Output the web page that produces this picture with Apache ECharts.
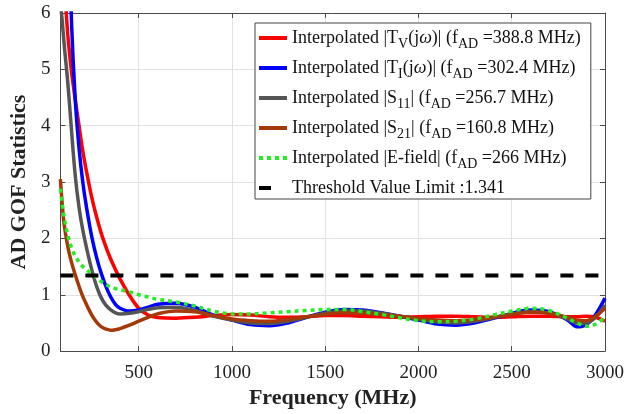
<!DOCTYPE html>
<html>
<head>
<meta charset="utf-8">
<script src="https://cdn.jsdelivr.net/npm/echarts@6/dist/echarts.min.js"></script>
<style>
html,body{margin:0;padding:0;background:#fff;}
#chart{width:628px;height:414px;}
</style>
</head>
<body>
<div id="chart"></div>
<script>
// ---- data ----
const freq = [80, 90, 100, 120, 140, 160, 180, 200, 225, 250, 275, 300, 325, 350, 375, 400, 450, 500, 550, 600, 700, 800, 900, 1000, 1100, 1200, 1300, 1400, 1500, 1600, 1700, 1800, 1900, 2000, 2100, 2200, 2300, 2400, 2500, 2600, 2700, 2800, 2850, 2900, 2950, 3000];
const tvVals  = [8, 7.2, 6.6, 5.6, 4.95, 4.45, 4.0, 3.55, 3.1, 2.7, 2.37, 2.08, 1.84, 1.63, 1.45, 1.28, 0.99, 0.76, 0.64, 0.595, 0.585, 0.6, 0.63, 0.65, 0.64, 0.61, 0.6, 0.61, 0.63, 0.63, 0.62, 0.61, 0.6, 0.61, 0.62, 0.62, 0.61, 0.6, 0.61, 0.62, 0.62, 0.61, 0.61, 0.62, 0.6, 0.53];
const tiVals  = [14, 12, 10.5, 8, 5.8, 4.45, 3.6, 3.0, 2.45, 2.0, 1.65, 1.37, 1.14, 0.96, 0.83, 0.76, 0.71, 0.73, 0.78, 0.83, 0.85, 0.78, 0.64, 0.55, 0.47, 0.45, 0.5, 0.6, 0.69, 0.74, 0.73, 0.68, 0.62, 0.55, 0.48, 0.46, 0.5, 0.58, 0.67, 0.73, 0.7, 0.55, 0.43, 0.47, 0.65, 0.94];
const s11Vals = [6.2, 5.85, 5.45, 4.75, 3.9, 3.1, 2.55, 2.15, 1.76, 1.42, 1.14, 0.94, 0.81, 0.73, 0.68, 0.66, 0.67, 0.7, 0.74, 0.77, 0.78, 0.72, 0.62, 0.55, 0.5, 0.49, 0.53, 0.6, 0.67, 0.71, 0.71, 0.67, 0.62, 0.57, 0.52, 0.5, 0.53, 0.59, 0.66, 0.7, 0.68, 0.57, 0.5, 0.5, 0.6, 0.82];
const s21Vals = [3.05, 2.6, 2.25, 1.85, 1.57, 1.35, 1.15, 0.97, 0.79, 0.63, 0.51, 0.43, 0.39, 0.37, 0.38, 0.4, 0.46, 0.53, 0.6, 0.66, 0.71, 0.7, 0.63, 0.57, 0.54, 0.53, 0.56, 0.61, 0.65, 0.68, 0.67, 0.65, 0.62, 0.58, 0.55, 0.54, 0.56, 0.6, 0.65, 0.69, 0.67, 0.6, 0.55, 0.54, 0.62, 0.76];
const efVals  = [2.88, 2.6, 2.38, 2.05, 1.83, 1.68, 1.58, 1.5, 1.43, 1.37, 1.3, 1.23, 1.18, 1.14, 1.11, 1.09, 1.05, 1.0, 0.96, 0.92, 0.87, 0.8, 0.71, 0.66, 0.66, 0.68, 0.7, 0.72, 0.74, 0.74, 0.7, 0.65, 0.59, 0.54, 0.52, 0.53, 0.57, 0.64, 0.71, 0.76, 0.72, 0.58, 0.5, 0.44, 0.48, 0.6];
const thresholdValue = 1.341;
const thresholdFreq = [80, 3000];
const xTickValues = [500, 1000, 1500, 2000, 2500, 3000];
const seriesNames = ['tv', 'ti', 's11', 's21', 'ef', 'th'];
const legendLabels = {
  tv: 'Interpolated |T{sub|V}(j{it|ω})| (f{sub|AD} =388.8 MHz)',
  ti: 'Interpolated |T{sub|I}(j{it|ω})| (f{sub|AD} =302.4 MHz)',
  s11: 'Interpolated |S{sub|11}| (f{sub|AD} =256.7 MHz)',
  s21: 'Interpolated |S{sub|21}| (f{sub|AD} =160.8 MHz)',
  ef: 'Interpolated |E-field| (f{sub|AD} =266 MHz)',
  th: 'Threshold Value Limit :1.341'
};

const pairs = vals => freq.map((f, i) => [f, vals[i]]);
const FONT = 'Liberation Serif';

function lineSeries(name, vals, color, type, z) {
  return {
    name: name, type: 'line', data: pairs(vals), showSymbol: false, symbol: 'none',
    smooth: 0.35, clip: true, z: z,
    lineStyle: { color: color, width: 3.5, type: type || 'solid', cap: 'butt' },
    itemStyle: { color: color }
  };
}

const ICON_LINE = 'path://M0,0h28v4h-28z';
const ICON_DOTS = 'path://M0,0h4v4h-4zM8,0h4v4h-4zM16,0h4v4h-4zM24,0h4v4h-4z';
const ICON_DASH = 'path://M0,0h12v4h-12zM27.9,0h0.1v0.1h-0.1z';
const legendIcons = { tv: ICON_LINE, ti: ICON_LINE, s11: ICON_LINE, s21: ICON_LINE, ef: ICON_DOTS, th: ICON_DASH };

const chart = echarts.init(document.getElementById('chart'), null, { renderer: 'canvas' });
const axisLineStyle = { color: '#4a4a4a', width: 1 };
const option = {
  animation: false,
  backgroundColor: '#fff',
  grid: { left: 52, right: 23, top: 13, bottom: 61 },
  xAxis: [{
    type: 'value', min: 80, max: 3000, position: 'bottom',
    name: 'Frequency (MHz)', nameLocation: 'middle', nameGap: 34,
    nameTextStyle: { fontFamily: FONT, fontSize: 22, fontWeight: 'bold', color: '#222' },
    axisLine: { show: true, onZero: false, lineStyle: axisLineStyle },
    axisTick: { show: true, inside: true, length: 5, customValues: xTickValues, lineStyle: axisLineStyle },
    axisLabel: { customValues: xTickValues, margin: 12, fontFamily: FONT, fontSize: 19, color: '#222', formatter: v => String(v) },
    splitLine: { show: true, lineStyle: { color: '#e2e2e2', width: 1 } }
  }, {
    type: 'value', min: 80, max: 3000, position: 'top',
    axisLine: { show: true, onZero: false, lineStyle: axisLineStyle },
    axisTick: { show: true, inside: true, length: 5, customValues: xTickValues, lineStyle: axisLineStyle },
    axisLabel: { show: false },
    splitLine: { show: false }
  }],
  yAxis: [{
    type: 'value', min: 0, max: 6, interval: 1, position: 'left',
    name: 'AD GOF Statistics', nameLocation: 'middle', nameGap: 22,
    nameTextStyle: { fontFamily: FONT, fontSize: 22, fontWeight: 'bold', color: '#222' },
    axisLine: { show: true, onZero: false, lineStyle: axisLineStyle },
    axisTick: { show: true, inside: true, length: 5, lineStyle: axisLineStyle },
    axisLabel: { margin: 10, fontFamily: FONT, fontSize: 19, color: '#222' },
    splitLine: { show: true, lineStyle: { color: '#e2e2e2', width: 1 } }
  }, {
    type: 'value', min: 0, max: 6, interval: 1, position: 'right',
    axisLine: { show: true, onZero: false, lineStyle: axisLineStyle },
    axisTick: { show: true, inside: true, length: 5, lineStyle: axisLineStyle },
    axisLabel: { show: false },
    splitLine: { show: false }
  }],
  legend: {
    orient: 'vertical', left: 255, top: 23,
    data: seriesNames.map(n => ({ name: n, icon: legendIcons[n] })),
    itemWidth: 28, itemHeight: 4, itemGap: 8,
    padding: [6, 10, 2, 4],
    backgroundColor: '#fff', borderColor: '#444', borderWidth: 1,
    itemStyle: { borderWidth: 0 },
    formatter: name => legendLabels[name],
    textStyle: {
      fontFamily: FONT, fontSize: 18, color: '#111',
      rich: {
        sub: { fontFamily: FONT, fontSize: 14, color: '#111', padding: [12, 0, 0, 0] },
        it: { fontFamily: FONT, fontSize: 18, fontStyle: 'italic', color: '#111' }
      }
    }
  },
  series: [
    lineSeries('tv', tvVals, '#ff0000', 'solid', 2),
    lineSeries('ti', tiVals, '#0000ff', 'solid', 3),
    lineSeries('s11', s11Vals, '#555555', 'solid', 4),
    lineSeries('s21', s21Vals, '#a33a08', 'solid', 5),
    lineSeries('ef', efVals, '#22ee22', [4, 4], 6),
    {
      name: 'th', type: 'line', showSymbol: false, symbol: 'none', z: 7,
      data: thresholdFreq.map(f => [f, thresholdValue]),
      lineStyle: { color: '#000', width: 4, type: [13, 12], cap: 'butt' },
      itemStyle: { color: '#000' }
    }
  ]
};
chart.setOption(option);
</script>
</body>
</html>
